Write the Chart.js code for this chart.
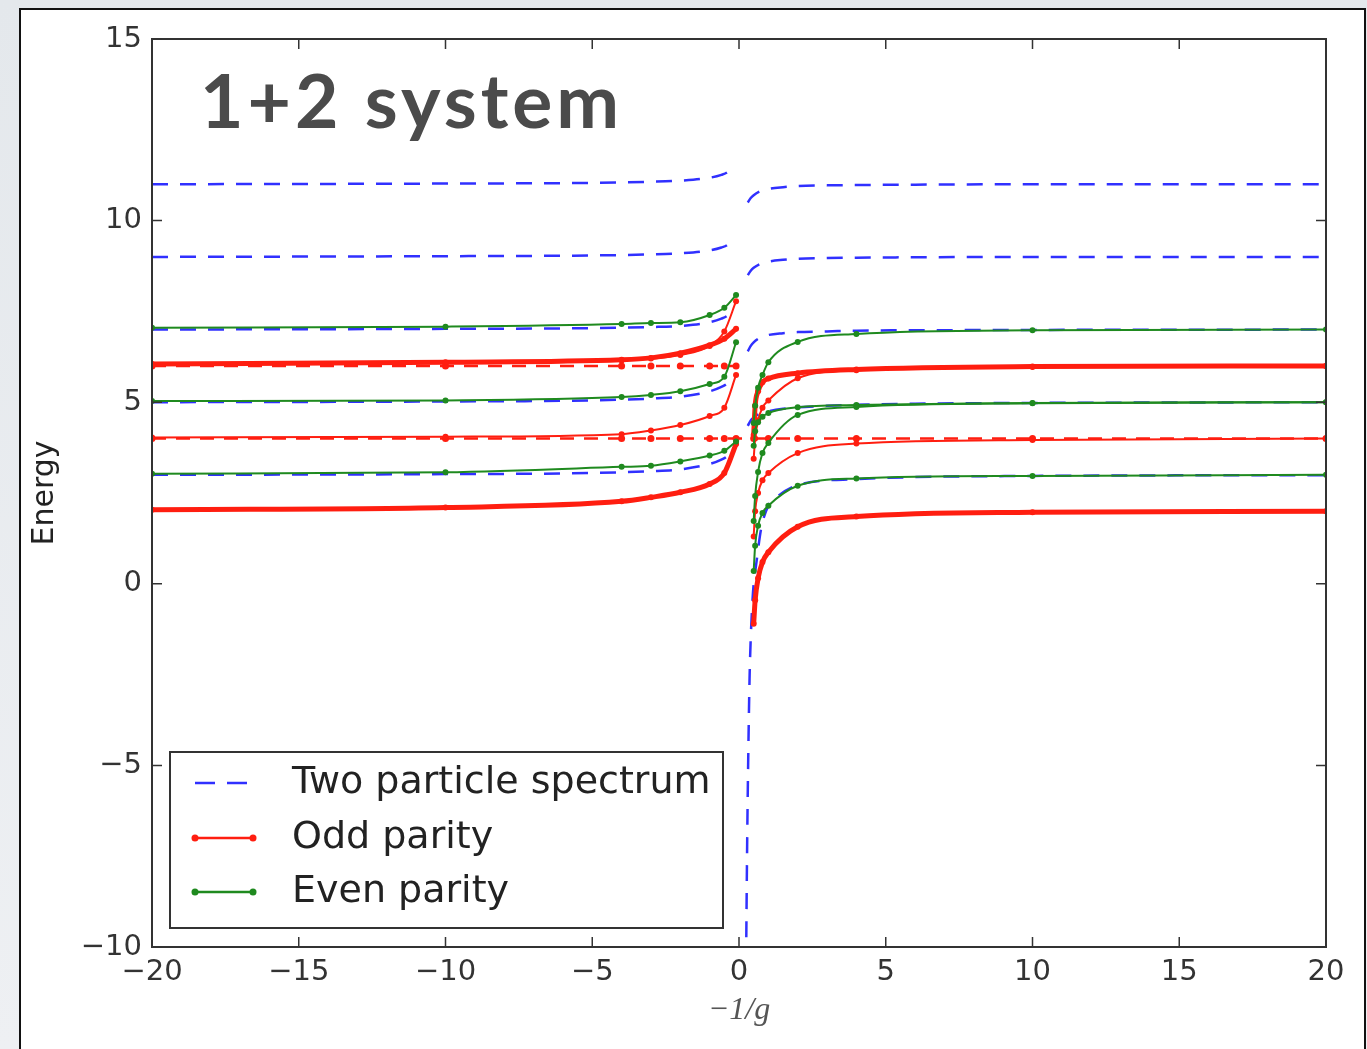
<!DOCTYPE html>
<html>
<head>
<meta charset="utf-8">
<title>1+2 system</title>
<script src="https://cdn.jsdelivr.net/npm/chart.js@4.4.1/dist/chart.umd.min.js"></script>
<style>
  html, body { margin: 0; padding: 0; }
  body {
    width: 1367px; height: 1049px; overflow: hidden; position: relative;
    background: linear-gradient(180deg, #e4e8ec 0%, #eef0f3 100%);
  }
  #card {
    position: absolute; left: 19px; top: 8px; width: 1343px; height: 1060px;
    background: #fff; border: 2px solid #111;
  }
  #chart { position: absolute; left: 0; top: 0; }
  #heading {
    position: absolute; left: 200px; top: 62px;
    font: bold 75px Lato, sans-serif; line-height: 1;
    color: #4b4b4b; letter-spacing: 4px; white-space: nowrap;
  }
</style>
</head>
<body>
<div id="card"></div>
<canvas id="chart" width="1367" height="1049"></canvas>
<div id="heading">1+2 system</div>
<script>
// x grids (-1/g)
const xLeft = [-20, -10, -4, -3, -2, -1, -0.5, -0.1];
const xRight = [0.5, 0.55, 0.65, 0.8, 1, 2, 4, 10, 20];
const xOddFlat = [-20, -10, -4, -3, -2, -1, -0.5, -0.1, 0.5, 1, 2, 4, 10, 20];
const xOddFlatLeft = [-20, -10, -4, -3, -2, -1, -0.5, -0.1];
const xPairLeft = [-20, -10, -5, -3, -2, -1, -0.6, -0.4, -0.2];
const xPairRight = [0.3, 0.4, 0.5, 0.7, 1, 1.5, 2, 3, 4, 6, 10, 20];
const xPairBound = [0.24, 0.28, 0.32, 0.36, 0.4, 0.45, 0.5, 0.58, 0.75, 1, 1.3, 2, 4, 10, 20];

// two particle spectrum (blue dashed)
const pair3Left = [3.0, 3.02, 3.05, 3.1, 3.15, 3.3, 3.42, 3.52, 3.75];
const pair5Left = [5.0, 5.02, 5.05, 5.1, 5.15, 5.3, 5.42, 5.52, 5.75];
const pair7Left = [7.0, 7.02, 7.04, 7.07, 7.1, 7.2, 7.3, 7.38, 7.55];
const pair9Left = [9.0, 9.02, 9.04, 9.07, 9.1, 9.18, 9.26, 9.33, 9.5];
const pair11Left = [11.0, 11.02, 11.04, 11.07, 11.1, 11.18, 11.26, 11.33, 11.5];
const pair5Right = [4.35, 4.5, 4.58, 4.68, 4.75, 4.82, 4.86, 4.9, 4.93, 4.96, 4.98, 5.0];
const pair7Right = [6.4, 6.55, 6.65, 6.77, 6.85, 6.9, 6.93, 6.95, 6.97, 6.98, 6.99, 7.0];
const pair9Right = [8.5, 8.62, 8.7, 8.8, 8.87, 8.92, 8.95, 8.97, 8.98, 8.99, 9.0, 9.0];
const pair11Right = [10.5, 10.62, 10.7, 10.8, 10.87, 10.92, 10.95, 10.97, 10.98, 10.99, 11.0, 11.0];
const pairBound = [-10.5, -7, -4.5, -2.6, -1.5, -0.6, 0, 0.5, 1.5, 2.15, 2.4, 2.72, 2.88, 2.97, 2.99];

// odd parity (red)
const odd2Left = [2.04, 2.1, 2.27, 2.38, 2.52, 2.75, 3.05, 3.85];
const odd4Left = [4.03, 4.05, 4.12, 4.22, 4.37, 4.62, 4.85, 5.75];
const odd6Left = [6.05, 6.1, 6.17, 6.22, 6.35, 6.57, 6.75, 7.02];
const odd6LeftUpper = [6.04, 6.08, 6.15, 6.2, 6.3, 6.55, 6.95, 7.78];
const odd4Flat = [4.0, 4.0, 4.0, 4.0, 4.0, 4.0, 4.0, 4.0, 4.0, 4.0, 4.0, 4.0, 4.0, 4.0];
const odd6FlatLeft = [6.0, 6.0, 6.0, 6.0, 6.0, 6.0, 6.0, 6.0];
const odd2Right = [-1.1, -0.45, 0.15, 0.6, 0.87, 1.57, 1.85, 1.97, 2.0];
const odd4Right = [1.3, 2.0, 2.5, 2.85, 3.05, 3.6, 3.86, 3.96, 4.0];
const odd6RightLower = [3.44, 4.0, 4.5, 4.85, 5.05, 5.66, 5.88, 5.97, 6.0];
const odd6Right = [4.1, 4.9, 5.3, 5.55, 5.65, 5.8, 5.9, 5.98, 6.0];

// even parity (green)
const even3Left = [3.03, 3.07, 3.22, 3.25, 3.37, 3.53, 3.66, 3.92];
const even5Left = [5.03, 5.05, 5.14, 5.2, 5.3, 5.5, 5.7, 6.65];
const even7Left = [7.05, 7.08, 7.15, 7.18, 7.2, 7.4, 7.6, 7.95];
const even3Right = [0.35, 1.05, 1.6, 1.95, 2.15, 2.7, 2.9, 2.97, 3.0];
const even5RightLower = [1.73, 2.42, 3.08, 3.6, 3.88, 4.65, 4.87, 4.97, 5.0];
const even5Right = [3.8, 4.2, 4.45, 4.6, 4.7, 4.86, 4.92, 4.98, 5.0];
const even7Right = [4.43, 4.9, 5.4, 5.75, 6.1, 6.66, 6.88, 6.98, 7.0];

const legendLabels = ["Two particle spectrum", "Odd parity", "Even parity"];

const BLUE = "#3030ff";
const RED = "#ff1e10";
const GREEN = "#1f8a1f";

function pts(xs, ys) {
    return xs.map((x, i) => ({ x: x, y: ys[i] }));
}

function pairLine(xs, ys) {
    return {
        data: pts(xs, ys), borderColor: BLUE, borderWidth: 2.5,
        borderDash: [16, 12], pointRadius: 0, order: 2,
        cubicInterpolationMode: "monotone"
    };
}

function oddLine(xs, ys, width, dashed) {
    return {
        data: pts(xs, ys), borderColor: RED, backgroundColor: RED,
        borderWidth: width, borderDash: dashed ? [14, 10] : [],
        pointRadius: dashed ? 3.5 : 3, pointBorderWidth: 0, order: 1,
        cubicInterpolationMode: "monotone"
    };
}

function evenLine(xs, ys) {
    return {
        data: pts(xs, ys), borderColor: GREEN, backgroundColor: GREEN,
        borderWidth: 2, pointRadius: 3, pointBorderWidth: 0, order: 0,
        cubicInterpolationMode: "monotone"
    };
}

const datasets = [
    pairLine(xPairLeft, pair3Left),
    pairLine(xPairLeft, pair5Left),
    pairLine(xPairLeft, pair7Left),
    pairLine(xPairLeft, pair9Left),
    pairLine(xPairLeft, pair11Left),
    pairLine(xPairRight, pair5Right),
    pairLine(xPairRight, pair7Right),
    pairLine(xPairRight, pair9Right),
    pairLine(xPairRight, pair11Right),
    pairLine(xPairBound, pairBound),

    oddLine(xLeft, odd2Left, 5, false),
    oddLine(xLeft, odd4Left, 2, false),
    oddLine(xLeft, odd6Left, 5, false),
    oddLine(xLeft, odd6LeftUpper, 2, false),
    oddLine(xOddFlat, odd4Flat, 2.5, true),
    oddLine(xOddFlatLeft, odd6FlatLeft, 2.5, true),
    oddLine(xRight, odd2Right, 5, false),
    oddLine(xRight, odd4Right, 2, false),
    oddLine(xRight, odd6RightLower, 2, false),
    oddLine(xRight, odd6Right, 5, false),

    evenLine(xLeft, even3Left),
    evenLine(xLeft, even5Left),
    evenLine(xLeft, even7Left),
    evenLine(xRight, even3Right),
    evenLine(xRight, even5RightLower),
    evenLine(xRight, even5Right),
    evenLine(xRight, even7Right)
];

function minusLabel(v) {
    return v < 0 ? "\u2212" + Math.abs(v) : String(v);
}

// box round the axes with inward ticks on all four sides
const frame = {
    id: "frame",
    afterDatasetsDraw(chart) {
        const ctx = chart.ctx;
        const a = chart.chartArea;
        const x = chart.scales.x;
        const y = chart.scales.y;
        ctx.save();
        ctx.strokeStyle = "#333";
        ctx.lineWidth = 2;
        ctx.strokeRect(a.left, a.top, a.right - a.left, a.bottom - a.top);
        ctx.lineWidth = 1.5;
        ctx.beginPath();
        x.ticks.forEach(t => {
            const px = x.getPixelForValue(t.value);
            ctx.moveTo(px, a.bottom); ctx.lineTo(px, a.bottom - 10);
            ctx.moveTo(px, a.top); ctx.lineTo(px, a.top + 10);
        });
        y.ticks.forEach(t => {
            const py = y.getPixelForValue(t.value);
            ctx.moveTo(a.left, py); ctx.lineTo(a.left + 10, py);
            ctx.moveTo(a.right, py); ctx.lineTo(a.right - 10, py);
        });
        ctx.stroke();
        ctx.restore();
    }
};

const legendBox = {
    id: "legendBox",
    afterDraw(chart) {
        const ctx = chart.ctx;
        const a = chart.chartArea;
        const bx = a.left + 18, by = 752, bw = 553, bh = 176;
        ctx.save();
        ctx.fillStyle = "#fff";
        ctx.fillRect(bx, by, bw, bh);
        ctx.strokeStyle = "#333";
        ctx.lineWidth = 2;
        ctx.strokeRect(bx, by, bw, bh);

        const rows = [783, 838, 892];
        const x1 = bx + 25, x2 = bx + 83;

        // blue dashed sample
        ctx.strokeStyle = BLUE;
        ctx.lineWidth = 2.5;
        ctx.setLineDash([20, 12]);
        ctx.beginPath();
        ctx.moveTo(x1, rows[0]); ctx.lineTo(x1 + 52, rows[0]);
        ctx.stroke();
        ctx.setLineDash([]);

        [[RED, rows[1]], [GREEN, rows[2]]].forEach(([c, ry]) => {
            ctx.strokeStyle = c;
            ctx.fillStyle = c;
            ctx.lineWidth = 2.5;
            ctx.beginPath();
            ctx.moveTo(x1, ry); ctx.lineTo(x2, ry);
            ctx.stroke();
            [x1, x2].forEach(px => {
                ctx.beginPath();
                ctx.arc(px, ry, 3.5, 0, Math.PI * 2);
                ctx.fill();
            });
        });

        ctx.fillStyle = "#222";
        ctx.font = "38px 'DejaVu Sans'";
        ctx.textBaseline = "middle";
        legendLabels.forEach((t, i) => ctx.fillText(t, bx + 122, rows[i]));
        ctx.restore();
    }
};

new Chart(document.getElementById("chart"), {
    type: "line",
    data: { datasets: datasets },
    options: {
        responsive: false,
        animation: false,
        layout: {
            autoPadding: false,
            padding: { left: 25, top: 39, right: 41, bottom: 7 }
        },
        plugins: {
            legend: { display: false },
            tooltip: { enabled: false }
        },
        scales: {
            x: {
                type: "linear", min: -20, max: 20,
                afterFit: s => { s.height = 95; },
                grid: { display: false, drawTicks: false },
                border: { display: false },
                ticks: {
                    stepSize: 5, autoSkip: false, maxRotation: 0, padding: 8,
                    color: "#333", font: { family: "DejaVu Sans", size: 29 },
                    callback: minusLabel
                },
                title: {
                    display: true, text: "\u22121/g", color: "#555",
                    font: { family: "Liberation Serif", size: 32, style: "italic" },
                    padding: { top: 0, bottom: 12 }
                }
            },
            y: {
                min: -10, max: 15,
                afterFit: s => { s.width = 127; },
                grid: { display: false, drawTicks: false },
                border: { display: false },
                ticks: {
                    stepSize: 5, autoSkip: false, padding: 10,
                    color: "#333", font: { family: "DejaVu Sans", size: 29 },
                    callback: minusLabel
                },
                title: {
                    display: true, text: "Energy", color: "#222",
                    font: { family: "DejaVu Sans", size: 30 },
                    padding: { top: 2, bottom: 0 }
                }
            }
        }
    },
    plugins: [frame, legendBox]
});
</script>
</body>
</html>
